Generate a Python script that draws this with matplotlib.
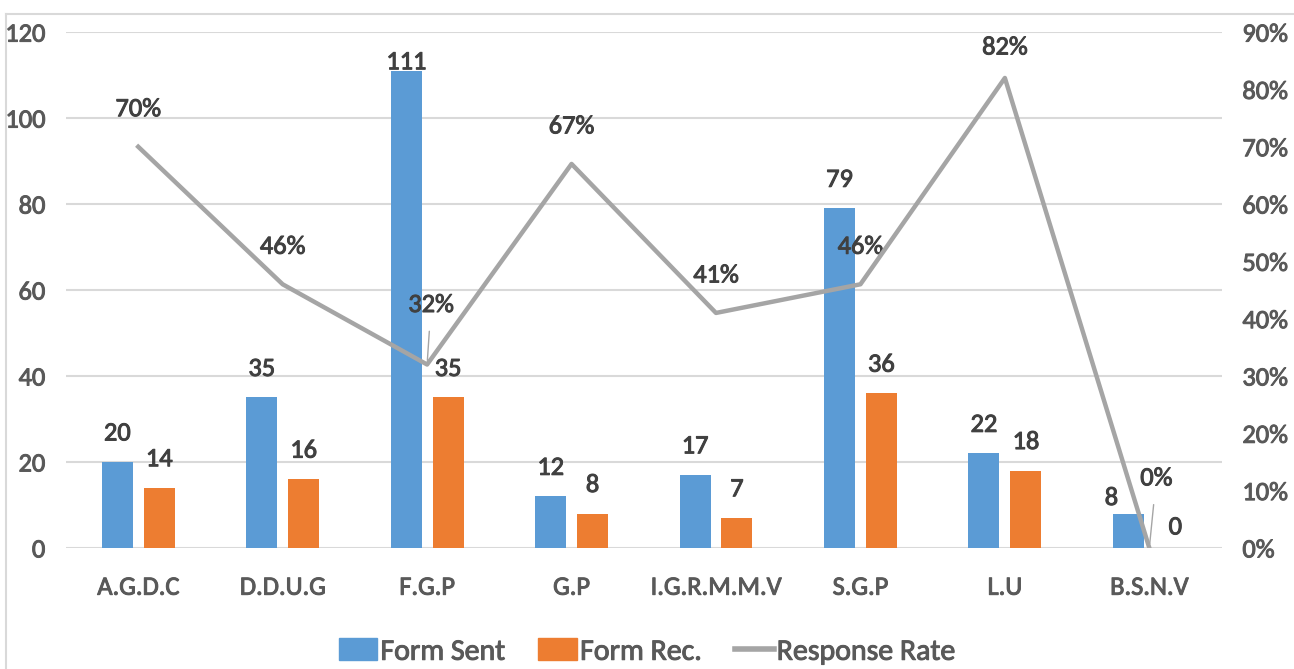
import matplotlib
matplotlib.use("Agg")
import matplotlib.pyplot as plt
import matplotlib.patheffects as pe
from matplotlib.lines import Line2D
from matplotlib.patches import Patch
from matplotlib.ticker import FuncFormatter, MultipleLocator
import numpy as np

plt.rcParams['font.family'] = ['Carlito', 'DejaVu Sans']

colleges = ["A.G.D.C", "D.D.U.G", "F.G.P", "G.P", "I.G.R.M.M.V", "S.G.P", "L.U", "B.S.N.V"]
form_sent = [20, 35, 111, 12, 17, 79, 22, 8]
form_rec = [14, 16, 35, 8, 7, 36, 18, 0]
response_rate = [0.70, 0.46, 0.32, 0.67, 0.41, 0.46, 0.82, 0.0]

BLUE = "#5B9BD5"
ORANGE = "#ED7D31"
GREY = "#A5A5A5"
TICK_C = "#595959"
LABEL_C = "#404040"
FS = 19


def heavy(color):
    # a thin outline in the text colour to thicken the glyph strokes
    return [pe.withStroke(linewidth=0.7, foreground=color)]


fig = plt.figure(figsize=(12.94, 6.69), dpi=100)
ax1 = fig.add_axes([0.051, 0.181, 0.893, 0.771])
ax2 = ax1.twinx()

x = np.arange(len(colleges))
w = 0.215
off = 0.145

ax1.bar(x - off, form_sent, w, color=BLUE, zorder=3)
ax1.bar(x + off, form_rec, w, color=ORANGE, zorder=3)

ax1.set_xlim(-0.5, len(colleges) - 0.5)
ax1.set_ylim(0, 120)
ax1.yaxis.set_major_locator(MultipleLocator(20))
ax1.grid(axis='y', color="#D9D9D9", linewidth=1.5, zorder=0)
ax1.set_axisbelow(True)
ax1.set_xticks(x)
ax1.set_xticklabels(colleges)
ax1.tick_params(axis='x', length=0, pad=20, labelsize=FS, labelcolor=TICK_C)
ax1.tick_params(axis='y', length=0, pad=15, labelsize=FS, labelcolor=TICK_C)

# bar value labels, a few nudged by hand (pixels)
sent_nudge = {2: (0, 9), 7: (-17, 16)}
rec_nudge = {7: (5, 21)}
for i, v in enumerate(form_sent):
    dx, dy = sent_nudge.get(i, (0, 29))
    ax1.annotate(str(v), (x[i] - off, v), xytext=(dx, dy), textcoords='offset pixels',
                 ha='center', va='center', fontsize=FS, color=LABEL_C, path_effects=heavy(LABEL_C))
for i, v in enumerate(form_rec):
    dx, dy = rec_nudge.get(i, (0, 29))
    ax1.annotate(str(v), (x[i] + off, v), xytext=(dx, dy), textcoords='offset pixels',
                 ha='center', va='center', fontsize=FS, color=LABEL_C, path_effects=heavy(LABEL_C))

ax2.plot(x, response_rate, color=GREY, linewidth=3.2, zorder=4)
ax2.set_ylim(0, 0.9)
ax2.yaxis.set_major_locator(MultipleLocator(0.1))
ax2.yaxis.set_major_formatter(FuncFormatter(lambda v, p: f"{v * 100:.0f}%"))
ax2.tick_params(axis='y', length=0, pad=15, labelsize=FS, labelcolor=TICK_C)

rate_nudge = {2: (4, 60), 6: (0, 31), 7: (7, 70)}
leader = {2, 7}
for i, r in enumerate(response_rate):
    dx, dy = rate_nudge.get(i, (0, 38))
    props = dict(arrowstyle='-', color=GREY, lw=1, shrinkA=9, shrinkB=3) if i in leader else None
    ax2.annotate(f"{r * 100:.0f}%", (x[i], r), xytext=(dx, dy), textcoords='offset pixels',
                 ha='center', va='center', fontsize=FS, color=LABEL_C, arrowprops=props,
                 path_effects=heavy(LABEL_C))

for lbl in ax1.get_xticklabels() + ax1.get_yticklabels() + ax2.get_yticklabels():
    lbl.set_path_effects(heavy(TICK_C))

for ax in (ax1, ax2):
    for s in ax.spines.values():
        s.set_visible(False)

handles = [Patch(color=BLUE), Patch(color=ORANGE), Line2D([], [], color=GREY, lw=4)]
leg = fig.legend(handles, ["Form Sent", "Form Rec.", "Response Rate"], loc='center',
                 bbox_to_anchor=(0.5, 0.026), ncol=3, frameon=False, fontsize=21.5,
                 handlelength=1.3, handleheight=0.75, handletextpad=0.1, columnspacing=1.1,
                 labelcolor=TICK_C)
for t in leg.get_texts():
    t.set_path_effects(heavy(TICK_C))

# outer frame edges
fig.add_artist(Line2D([6 / 1294, 1], [1 - 14 / 669, 1 - 14 / 669], color="#D9D9D9", lw=1.5))
fig.add_artist(Line2D([6 / 1294, 6 / 1294], [0, 1 - 14 / 669], color="#D9D9D9", lw=1.5))

fig.savefig("out.png", dpi=100)
